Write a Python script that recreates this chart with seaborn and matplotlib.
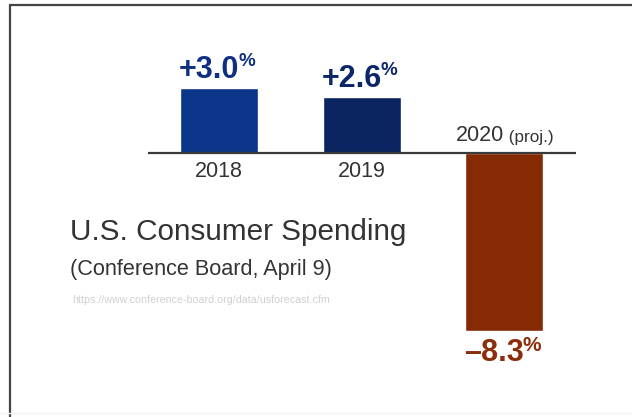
import matplotlib
matplotlib.use("Agg")
import matplotlib.pyplot as plt
from matplotlib.lines import Line2D
import seaborn as sns
import pandas as pd

# Annual change in U.S. consumer spending (percent)
years = ["2018", "2019", "2020"]
growth = [3.0, 2.6, -8.3]
value_labels = ["+3.0", "+2.6", "\u20138.3"]
bar_colors = ["#0a3588", "#0a2462", "#852a02"]
label_colors = ["#0f2f80", "#0c2668", "#8a2e0c"]
year_labels = ["2018", "2019", "2020"]

title = "U.S. Consumer Spending"
subtitle = "(Conference Board, April 9)"
source = "https://www.conference-board.org/data/usforecast.cfm"

sns.set_theme(style="white")
plt.rcParams["font.family"] = ["Liberation Sans", "DejaVu Sans"]

df = pd.DataFrame({"year": years, "growth": growth})

fig = plt.figure(figsize=(6.32, 4.17), dpi=100)
ax = fig.add_axes([0, 0, 1, 1])

sns.barplot(data=df, x="year", y="growth", hue="year", palette=bar_colors,
            width=0.547, legend=False, ax=ax, saturation=1)

ax.set_xlim(-1.537, 2.898)
ax.set_ylim(-12.28, 7.116)
ax.axis("off")

# zero line across the bars
ax.plot([-0.498, 2.505], [0, 0], color="#3a3a3a", lw=1.6, solid_capstyle="butt")

# value labels with a raised, smaller percent sign
pct_sizes = [13.5, 13.5, 15]
for i, (v, lab, col) in enumerate(zip(growth, value_labels, label_colors)):
    if v >= 0:
        off, va = 3, "bottom"
    else:
        off, va = -7, "top"
    t = ax.annotate(lab, xy=(i - 0.07, v), xytext=(0, off), textcoords="offset pixels",
                    ha="center", va=va, fontsize=22, fontweight="bold", color=col)
    ax.annotate("%", xy=(1.0, 1.0), xycoords=t, xytext=(-1, 2), textcoords="offset pixels",
                ha="left", va="top", fontsize=pct_sizes[i], fontweight="bold", color=col)

# year labels
for i, lab in enumerate(year_labels[:2]):
    ax.annotate(lab, xy=(i, 0), xytext=(0, -19), textcoords="offset pixels",
                ha="center", va="center", fontsize=15.5, color="#333333")
yr = ax.annotate(year_labels[2], xy=(2 - 0.17, 0), xytext=(0, 17), textcoords="offset pixels",
                 ha="center", va="center", fontsize=15.5, color="#333333")
ax.annotate(" (proj.)", xy=(1.0, 0.45), xycoords=yr, ha="left", va="center",
            fontsize=12.3, color="#333333")

# headings
fig.text(70 / 632, 1 - 232 / 417, title, ha="left", va="center", fontsize=21.4, color="#333333")
fig.text(70 / 632, 1 - 269 / 417, subtitle, ha="left", va="center", fontsize=15.6, color="#333333")
fig.text(72 / 632, 1 - 300 / 417, source, ha="left", va="center", fontsize=7.7, color="#d0d0d0")

# slide frame
fig.add_artist(Line2D([10 / 632, 10 / 632], [0, 1 - 4.5 / 417], transform=fig.transFigure,
                      color="#454545", lw=1.6))
fig.add_artist(Line2D([10 / 632, 1], [1 - 4.5 / 417, 1 - 4.5 / 417], transform=fig.transFigure,
                      color="#454545", lw=1.6))
fig.add_artist(Line2D([0, 1], [4 / 417, 4 / 417], transform=fig.transFigure,
                      color="#f0f0f0", lw=1.0))

fig.savefig("out.png", dpi=100)
